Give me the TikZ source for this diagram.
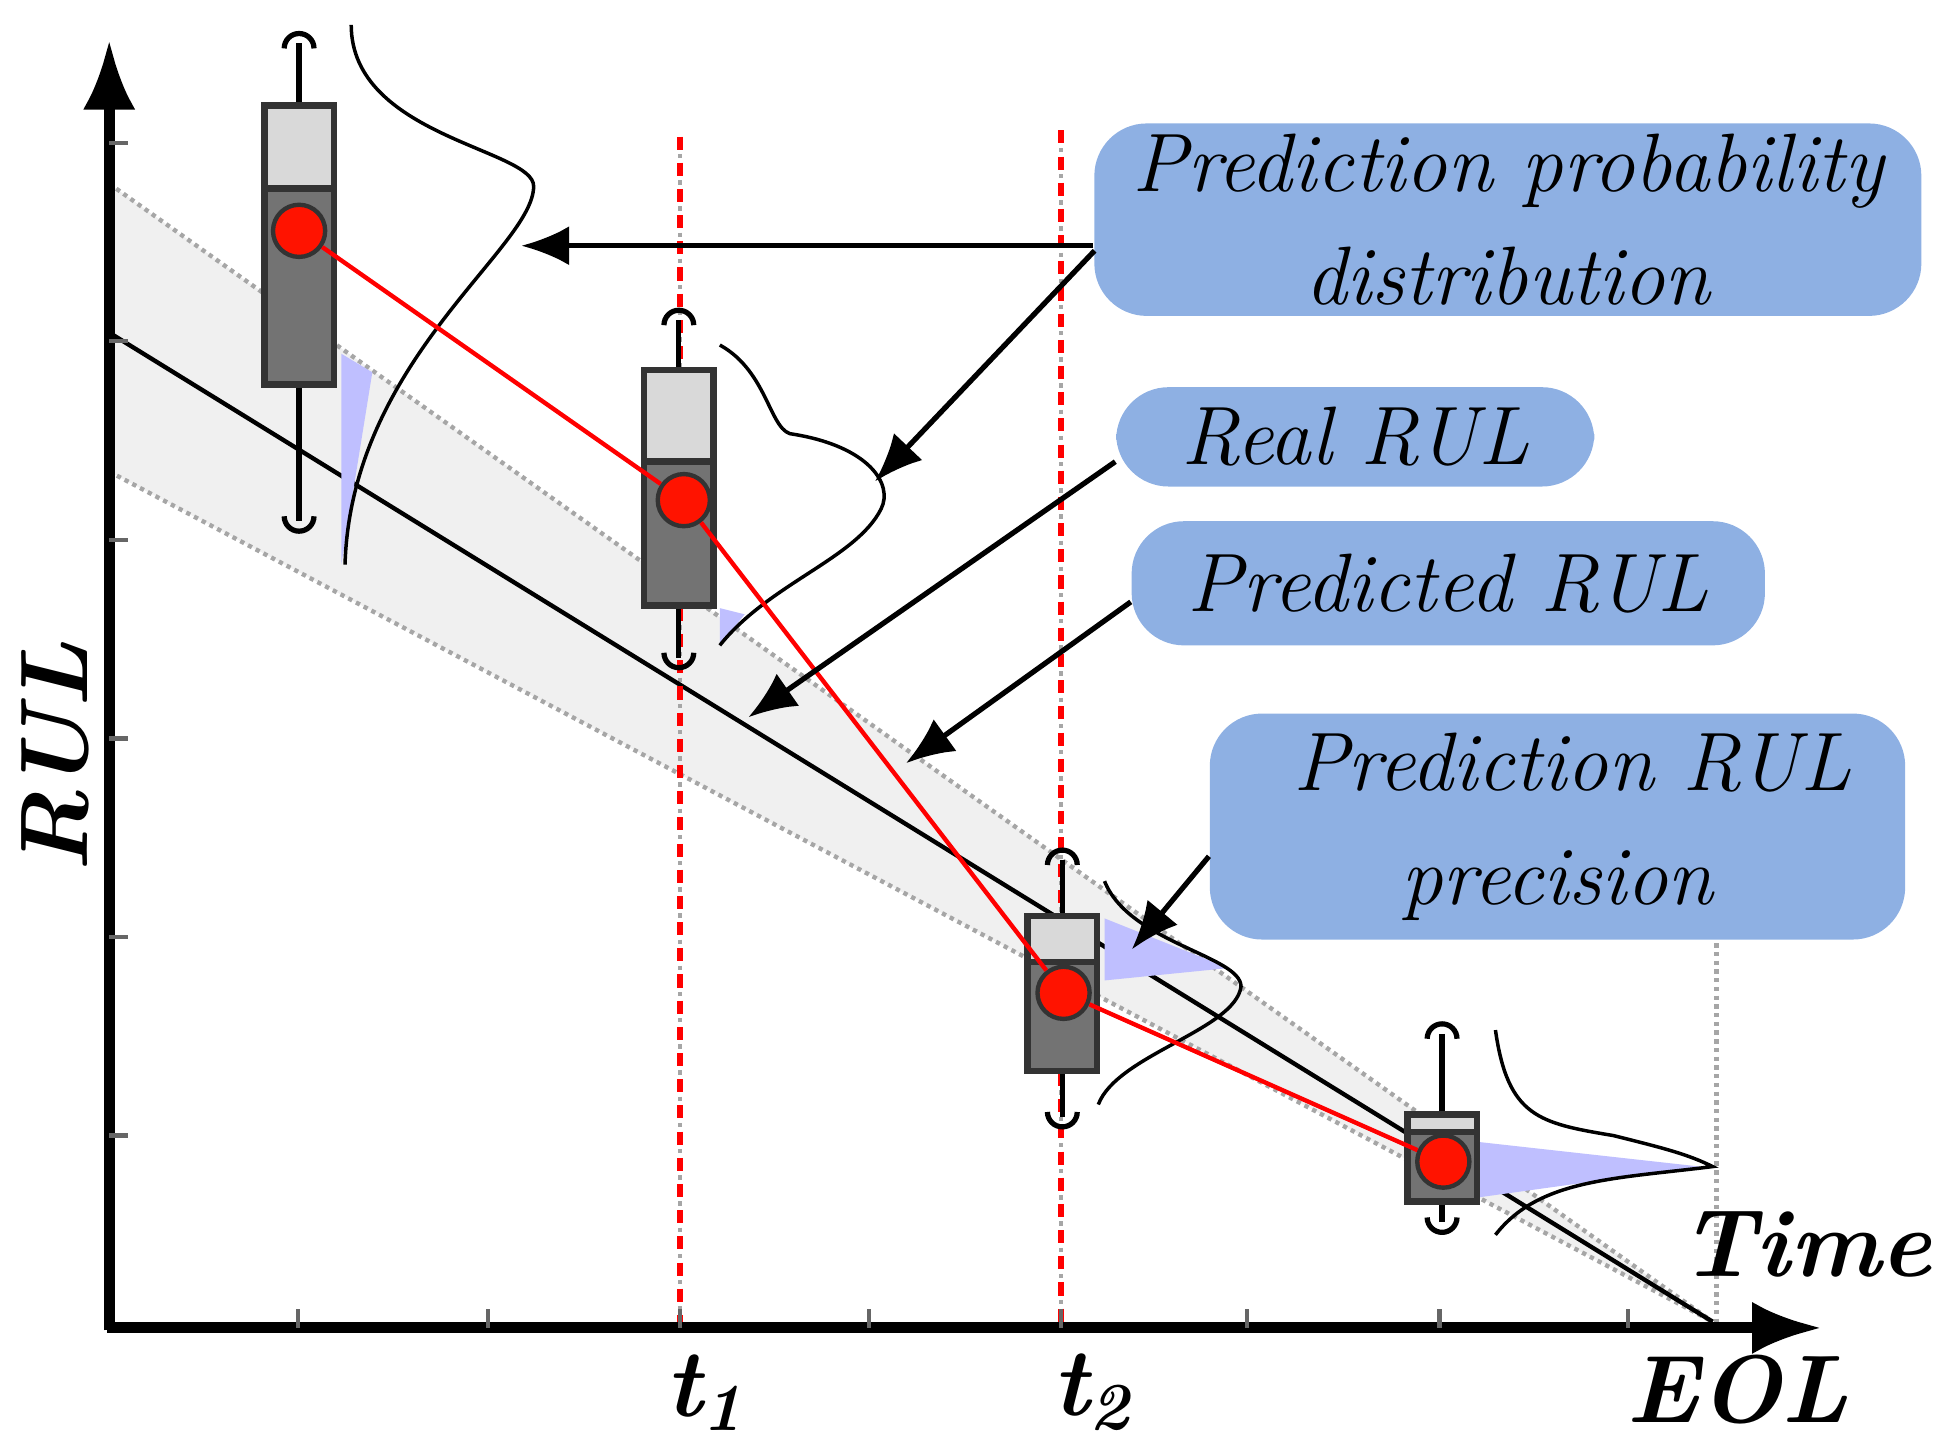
\documentclass[tikz,border=0pt]{standalone}
\usetikzlibrary{arrows.meta}
\begin{document}
\begin{tikzpicture}[x=0.01cm,y=-0.01cm,
  lbl/.style={fill=lblue,rounded corners=12pt,inner sep=0pt,font=\fontsize{19}{26}\selectfont\itshape,align=center},
  ax/.style={line width=2.5pt,-{Latex[length=16pt,width=12pt]}},
  ptr/.style={line width=1.2pt,-{Latex[length=11pt,width=9pt]}},
  boxu/.style={draw=black!80,line width=1.5pt,fill=black!15},
  boxl/.style={draw=black!80,line width=1.5pt,fill=black!55},
  dot/.style={circle,draw=black!80,fill=red!85!orange,minimum size=0.42cm,inner sep=0pt,line width=1pt},
  dist/.style={draw=black,line width=0.8pt},
  tl/.style={font=\fontsize{22}{26}\selectfont\bfseries\itshape}]
\definecolor{lblue}{HTML}{8EB0E3}
\useasboundingbox (0,0) rectangle (1560,1160);
% band
\fill[black!6] (88,148) -- (1380,1065) -- (88,380) -- cycle;
\draw[black!35,densely dotted,line width=1pt] (88,148) -- (1380,1065);
\draw[black!35,densely dotted,line width=1pt] (88,380) -- (1380,1065);
\draw[black!35,densely dotted,line width=1pt] (1383,760) -- (1383,1065);
\draw[black!35,densely dotted,line width=1pt] (548,110) -- (548,1065);
\draw[black!35,densely dotted,line width=1pt] (855,105) -- (855,1065);
% real RUL
\draw[line width=1pt] (88,268) -- (1380,1065);
% distributions
\fill[blue!25] (275,285) -- (300,300) -- (275,455) -- cycle;
\fill[blue!25] (580,490) -- (600,495) -- (580,520) -- cycle;
\fill[blue!25] (890,740) -- (990,780) -- (890,790) -- cycle;
\fill[blue!25] (1190,920) -- (1370,940) -- (1190,965) -- cycle;
\draw[dist] (283,20) .. controls (283,110) and (430,120) .. (430,150) .. controls (430,200) and (283,290) .. (278,455);
\draw[dist] (580,278) .. controls (620,300) and (620,350) .. (640,350) .. controls (700,360) and (720,390) .. (710,410) .. controls (690,450) and (620,470) .. (580,520);
\draw[dist] (890,710) .. controls (910,760) and (1000,770) .. (1000,795) .. controls (995,830) and (900,850) .. (885,890);
\draw[dist] (1205,830) .. controls (1215,900) and (1240,905) .. (1300,915) .. controls (1340,925) and (1360,930) .. (1380,940) .. controls (1300,950) and (1240,950) .. (1205,995);
% t lines
\draw[red,dashed,line width=1.2pt] (548,110) -- (548,1070);
\draw[red,dashed,line width=1.2pt] (855,105) -- (855,1070);
% boxes
\foreach \x/\t/\m/\b/\wt/\wb [count=\i] in {241/85/152/310/35/420, 547/298/372/488/258/530, 856/738/775/863/693/900, 1162/898/912/968/833/985}{
  \draw[line width=1.2pt] (\x,\wt) -- (\x,\wb);
  \draw[line width=1.2pt] (\x-12,\wt+4) arc[start angle=180,end angle=0,radius=0.12cm];
  \draw[line width=1.2pt] (\x-12,\wb-4) arc[start angle=180,end angle=360,radius=0.12cm];
  \draw[boxu] (\x-28,\t) rectangle (\x+28,\m);
  \draw[boxl] (\x-28,\m) rectangle (\x+28,\b);
}
\node[dot] (c1) at (241,186) {};
\node[dot] (c2) at (551,403) {};
\node[dot] (c3) at (857,800) {};
\node[dot] (c4) at (1163,936) {};
\draw[red,line width=1pt] (c1) -- (c2) -- (c3) -- (c4);
% axes
\draw[ax] (88,1072) -- (88,32);
\draw[ax] (86,1070) -- (1468,1070);
\foreach \x in {240,393,548,700,855,1005,1160,1312} \draw[black!60,line width=1pt] (\x,1070) -- (\x,1055);
\foreach \y in {115,275,435,595,755,915} \draw[black!60,line width=1pt] (88,\y) -- (103,\y);
% labels
\node[lbl,minimum width=6.66cm,minimum height=1.55cm] (L1) at (1215,177) {Prediction probability\\distribution};
\node[lbl,minimum width=3.85cm,minimum height=0.8cm] (L2) at (1092,352) {Real RUL};
\node[lbl,minimum width=5.1cm,minimum height=1cm] (L3) at (1167,470) {Predicted RUL};
\node[lbl,minimum width=5.6cm,minimum height=1.82cm] (L4) at (1255,666) {\ Prediction RUL\\precision};
\coordinate (a1) at (420,198);
\coordinate (a2) at (705,388);
\coordinate (a3) at (603,578);
\coordinate (a4) at (730,615);
\coordinate (a5) at (912,765);
\draw[ptr] (L1.west |- 0,198) -- (a1);
\draw[ptr] (882,202) -- (a2);
\draw[ptr] (L2.west |- 0,372) -- (a3);
\draw[ptr] (L3.west |- 0,485) -- (a4);
\draw[ptr] (L4.west |- 0,690) -- (a5);
% axis texts
\node[tl,rotate=90] (rul) at (45,610) {RUL};
\node[tl] (time) at (1455,1003) {Time};
\node[tl] (t1) at (568,1122) {t\textsubscript{1}};
\node[tl] (t2) at (880,1122) {t\textsubscript{2}};
\node[tl] (eol) at (1400,1120) {EOL};
\end{tikzpicture}
\end{document}
